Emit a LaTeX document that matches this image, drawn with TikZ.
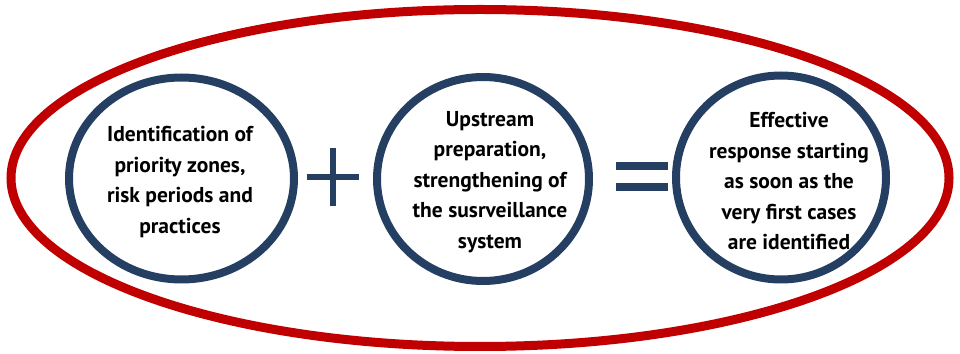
\documentclass[tikz,border=0pt]{standalone}
\usepackage{fontspec}
\setmainfont{PT Sans}
\usetikzlibrary{shapes.geometric}
\definecolor{ringred}{RGB}{192,0,0}
\definecolor{navy}{RGB}{36,63,98}
\begin{document}
\begin{tikzpicture}[
        x=1pt, y=1pt,
        ring/.style={ellipse,draw=ringred,line width=9pt,inner sep=0pt},
        bubble/.style={ellipse,draw=navy,line width=8pt,inner sep=0pt,fill=white},
        words/.style={align=center,font=\fontsize{21.5}{30.5}\selectfont\bfseries}
        ]
    
        \useasboundingbox (0,0) rectangle (960,353);
        \node (outer) at (480, 175) [ring, minimum width=938pt, minimum height=337pt] {};
        \node (zones) at (181.5, 174.5) [bubble, minimum width=225pt, minimum height=202pt] {};
        \node (prep) at (483, 174) [bubble, minimum width=212pt, minimum height=204pt] {};
        \node (resp) at (781, 175.5) [bubble, minimum width=210pt, minimum height=204pt] {};
        \node (zonestext) at (180, 171) [words] {Identification of\\priority zones,\\risk periods and\\practices};
        \node (preptext) at (490, 171) [words] {Upstream\\preparation,\\strengthening of\\the susrveillance\\system};
        \node (resptext) at (789, 171.5) [words] {Effective\\response starting\\as soon as the\\very first cases\\are identified};
        \coordinate (plus) at (332.5, 176);
        \coordinate (equals) at (642, 176);
        \draw [navy, line width=6pt] ([xshift=-26pt]plus) -- ([xshift=26pt]plus);
        \draw [navy, line width=6pt] ([yshift=-29pt]plus) -- ([yshift=29pt]plus);
        \draw [navy, line width=8pt] ([xshift=-26pt, yshift=11pt]equals) -- ([xshift=26pt, yshift=11pt]equals);
        \draw [navy, line width=8pt] ([xshift=-26pt, yshift=-10.5pt]equals) -- ([xshift=26pt, yshift=-10.5pt]equals);
      \end{tikzpicture}
\end{document}
